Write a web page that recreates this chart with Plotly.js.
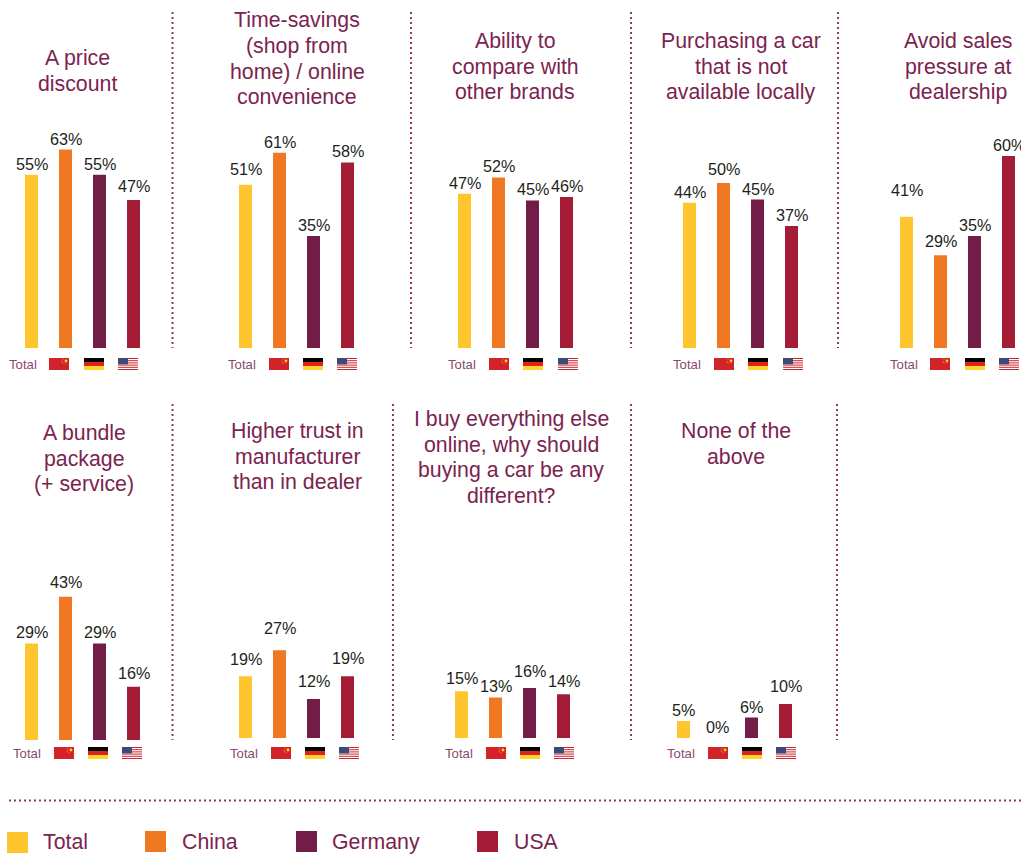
<!DOCTYPE html>
<html><head><meta charset="utf-8">
<script src="https://cdn.plot.ly/plotly-3.0.1.min.js"></script>
<style>html,body{margin:0;padding:0;background:#fff;overflow:hidden}</style>
</head><body><div id="chart" style="width:1021px;height:854px"></div>
<script>
const categories = ['Total','China','Germany','USA'];
const colors = ['#FFC52F','#F07822','#721C47','#A51C36'];
const titles = [
 ['A price','discount'],
 ['Time-savings','(shop from','home) / online','convenience'],
 ['Ability to','compare with','other brands'],
 ['Purchasing a car','that is not','available locally'],
 ['Avoid sales','pressure at','dealership'],
 ['A bundle','package','(+ service)'],
 ['Higher trust in','manufacturer','than in dealer'],
 ['I buy everything else','online, why should','buying a car be any','different?'],
 ['None of the','above']
];
const totalValues   = [55,51,47,44,41,29,19,15,5];
const chinaValues   = [63,61,52,50,29,43,27,13,0];
const germanyValues = [55,35,45,45,35,29,12,16,6];
const usaValues     = [47,58,46,37,60,16,19,14,10];

// layout helpers (pixels of the 1021x854 page)
const W = 1021, H = 854;
const firstBar  = [31.5,245.5,464.5,689.5,906.5,31.5,245.5,461.5,683.5];
const baseline  = [348,348,348,348,348,740,738,738,738];
const pxPerUnit = [3.15,3.2,3.28,3.3,3.2,3.33,3.25,3.12,3.4];
const titleX    = [77,297,515,741,958,84,297,511,736];
const titleFirstLine = [58,20.5,41,41,41,433,431,419,431];
const LINE_STEP = 25.5;
const labelCentre = [[166,141,166,186],[169,142,229,152],[187,169,190,188],[194,169,190,225],[190,241,225,145],
                     [632,582,633,673],[659,628,681,658],[678,686,671,681],[710,730,707,686]];
const MIN_LABEL_GAP = 11;
const totalX    = [22.5,241.5,462,687,903.5,26.5,243.5,459,680.5];
const flagLeft  = [[49,84,118],[269,303,337],[489,523,558],[714,748,783],[930,965,999],
                   [54,88,122],[271,305,339],[486,520,554],[708,742,776]];
const sepRow1 = [172.5,411,631,838], sepRow2 = [172.5,393,631,837];
const legendBox  = [[7,832],[145,831],[296,831],[477,831]];
const legendText = [41,180,330,512];
const PITCH = 34, BAR = 13, PANEL_H = 215;

const fx = p => p/W, fy = p => 1-p/H;
const flagSvg = {
 China:`<svg xmlns="http://www.w3.org/2000/svg" width="20" height="12" viewBox="0 0 20 12"><rect width="20" height="12" fill="#D2232A"/><circle cx="17" cy="3" r="1.4" fill="#F9D616"/><circle cx="14" cy="1.5" r=".5" fill="#F0A020"/><circle cx="13" cy="3" r=".5" fill="#F0A020"/><circle cx="13.5" cy="4.6" r=".5" fill="#F0A020"/><circle cx="15" cy="5.4" r=".5" fill="#F0A020"/></svg>`,
 Germany:`<svg xmlns="http://www.w3.org/2000/svg" width="20" height="12" viewBox="0 0 20 12"><rect width="20" height="4" y="0" fill="#000"/><rect width="20" height="4" y="4" fill="#E0201E"/><rect width="20" height="4" y="8" fill="#FBD62A"/></svg>`,
 USA:`<svg xmlns="http://www.w3.org/2000/svg" width="20" height="12" viewBox="0 0 20 12"><rect width="20" height="12" fill="#fff"/><g fill="#C8262C"><rect y="0" width="20" height="1"/><rect y="2.2" width="20" height="1"/><rect y="4.4" width="20" height="1"/><rect y="6.6" width="20" height="1"/><rect y="8.8" width="20" height="1"/><rect y="11" width="20" height="1"/></g><rect width="10" height="6.4" fill="#3D4A78"/></svg>`
};
const flagUri = k => 'data:image/svg+xml;charset=utf-8,'+encodeURIComponent(flagSvg[k]);

const traces=[], annotations=[], shapes=[], images=[];
const layout = {width:W,height:H,margin:{l:0,r:0,t:0,b:0},paper_bgcolor:'#fff',plot_bgcolor:'rgba(0,0,0,0)',
  showlegend:false,bargap:1-BAR/PITCH,font:{family:'"Liberation Sans",Arial,sans-serif'}};
const PLUM='#7B2350', TITLE_SIZE=21.3;

titles.forEach((lines,i)=>{
  const n=i+1, xk='x'+(n===1?'':n), yk='y'+(n===1?'':n);
  const xa='xaxis'+(n===1?'':n), ya='yaxis'+(n===1?'':n);
  const left=firstBar[i]-PITCH/2, right=left+PITCH*4;
  const vals=[totalValues[i],chinaValues[i],germanyValues[i],usaValues[i]];
  traces.push({type:'bar',x:categories,y:vals,xaxis:xk,yaxis:yk,
    marker:{color:colors,line:{width:0}},hoverinfo:'x+y'});
  vals.forEach((v,k)=>{
    annotations.push({xref:xk,yref:yk,x:categories[k],y:v,xanchor:'center',yanchor:'middle',showarrow:false,
      yshift:Math.max(MIN_LABEL_GAP,(baseline[i]-v*pxPerUnit[i])-labelCentre[i][k]),text:v+'%',
      font:{size:16.2,color:'#231F20'}});
  });
  layout[xa]={domain:[fx(left),Math.min(1,fx(right))],range:[-0.5,right>W?(W-left)/PITCH-0.5:3.5],
    type:'category',categoryorder:'array',categoryarray:categories,anchor:yk,
    showticklabels:false,showgrid:false,zeroline:false,showline:false,ticks:'',fixedrange:true};
  layout[ya]={domain:[fy(baseline[i]),fy(baseline[i]-PANEL_H)],range:[0,PANEL_H/pxPerUnit[i]],anchor:xk,
    showticklabels:false,showgrid:false,zeroline:false,showline:false,ticks:'',fixedrange:true};
  lines.forEach((t,l)=>annotations.push({xref:'paper',yref:'paper',x:fx(titleX[i]),y:fy(titleFirstLine[i]+l*LINE_STEP),
    xanchor:'center',yanchor:'middle',text:t,showarrow:false,align:'center',font:{size:TITLE_SIZE,color:PLUM}}));
  const rowY = i<5 ? 364 : 753;
  annotations.push({xref:'paper',yref:'paper',x:fx(totalX[i]),y:fy(rowY),xanchor:'center',yanchor:'middle',
    text:categories[0],showarrow:false,font:{size:13.2,color:'#8A4A70'}});
  flagLeft[i].forEach((fl,k)=>{
    images.push({source:flagUri(categories[k+1]),xref:'paper',yref:'paper',x:fx(fl),y:fy(rowY-6),
      sizex:20/W,sizey:12/H,xanchor:'left',yanchor:'top',sizing:'stretch',layer:'above'});
  });
});
const dot={color:'#8A3A63',width:2,dash:'2px,3px'};
sepRow1.forEach(x=>shapes.push({type:'line',xref:'paper',yref:'paper',x0:fx(x),x1:fx(x),y0:fy(12),y1:fy(348),line:dot}));
sepRow2.forEach(x=>shapes.push({type:'line',xref:'paper',yref:'paper',x0:fx(x),x1:fx(x),y0:fy(404),y1:fy(740),line:dot}));
shapes.push({type:'line',xref:'paper',yref:'paper',x0:fx(9),x1:1,y0:fy(800.5),y1:fy(800.5),line:dot});
categories.forEach((c,k)=>{
  const [bx,by]=legendBox[k];
  shapes.push({type:'rect',xref:'paper',yref:'paper',x0:fx(bx),x1:fx(bx+21),y0:fy(by),y1:fy(by+21),fillcolor:colors[k],line:{width:0}});
  annotations.push({xref:'paper',yref:'paper',x:fx(legendText[k]),y:fy(842),xanchor:'left',yanchor:'middle',
    text:c,showarrow:false,font:{size:TITLE_SIZE,color:PLUM}});
});
layout.annotations=annotations; layout.shapes=shapes; layout.images=images;
Plotly.newPlot('chart',traces,layout,{displayModeBar:false,staticPlot:true});
</script></body></html>
